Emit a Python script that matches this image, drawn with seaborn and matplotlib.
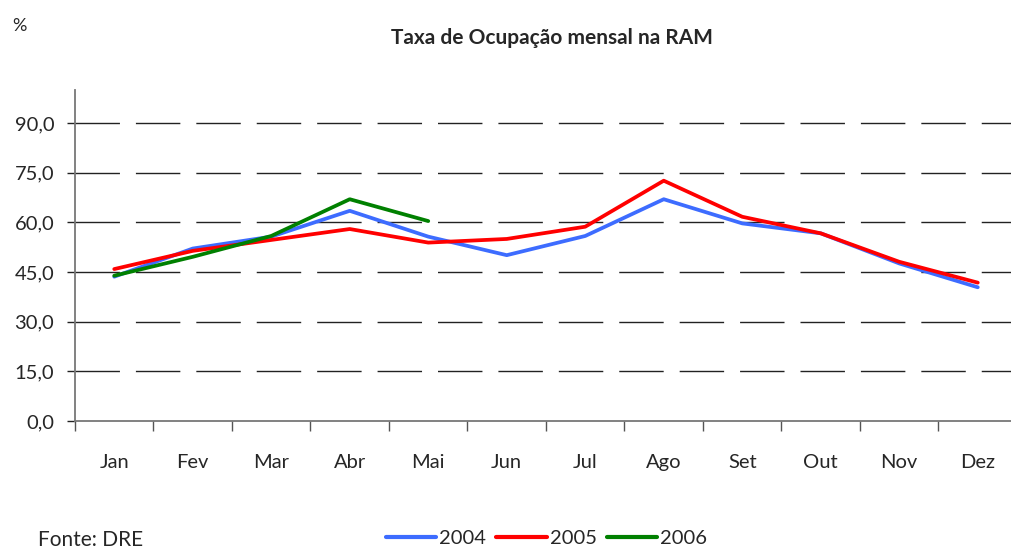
import matplotlib
matplotlib.use("Agg")
import matplotlib.pyplot as plt
import pandas as pd
import seaborn as sns

months = ["Jan", "Fev", "Mar", "Abr", "Mai", "Jun", "Jul", "Ago", "Set", "Out", "Nov", "Dez"]
occ_2004 = [43.6, 52.1, 55.7, 63.5, 55.7, 50.1, 55.9, 67.0, 59.7, 56.7, 47.6, 40.4]
occ_2005 = [45.9, 51.4, 54.7, 58.0, 53.9, 55.0, 58.7, 72.6, 61.7, 56.7, 48.1, 41.8]
occ_2006 = [43.9, 49.6, 55.9, 67.0, 60.4]
years = ["2004", "2005", "2006"]
colors = ["#3d6cff", "#ff0000", "#008000"]
yticks = [0, 15, 30, 45, 60, 75, 90]

rows = []
for year, vals in zip(years, [occ_2004, occ_2005, occ_2006]):
    for i, v in enumerate(vals):
        rows.append({"pos": i, "Mes": months[i], "Ano": year, "Taxa": v})
df = pd.DataFrame(rows)

sns.set_style("white")
plt.rcParams["font.family"] = ["Lato", "DejaVu Sans"]
plt.rcParams["lines.scale_dashes"] = False

fig = plt.figure(figsize=(10.12, 5.51), dpi=100)
ax = fig.add_axes([75 / 1012, 1 - 421 / 551, 942 / 1012, 331 / 551])

for y in yticks[1:]:
    ax.axhline(y, color="#222222", lw=1.0, linestyle=(0, (32, 11.5)), zorder=1)

sns.lineplot(data=df, x="pos", y="Taxa", hue="Ano", palette=colors, lw=2.7,
             sort=False, ax=ax, legend=False, zorder=3)

ax.set_xlim(-0.5, 11.5)
ax.set_ylim(0, 100)
ax.set_yticks(yticks)
ax.set_yticklabels([f"{v:.1f}".replace(".", ",") for v in yticks], fontsize=14.5)
ax.set_xticks([i - 0.5 for i in range(13)])
ax.set_xticklabels([])
ax.set_xticks(range(12), minor=True)
ax.set_xticklabels(months, minor=True, fontsize=14.5)
ax.tick_params(axis="x", which="major", length=7, width=1, color="#555555", direction="out", bottom=True)
ax.tick_params(axis="x", which="minor", length=0, pad=24)
ax.tick_params(axis="y", length=6, width=1, color="#222222", direction="out", left=True, pad=9)
ax.set_xlabel("")
ax.set_ylabel("")

for s in ["top", "right"]:
    ax.spines[s].set_visible(False)
for s in ["left", "bottom"]:
    ax.spines[s].set_color("#777777")
    ax.spines[s].set_linewidth(1.3)

fig.text(0.545, 1 - 38 / 551, "Taxa de Ocupação mensal na RAM", ha="center", va="center",
         fontsize=15, fontweight="bold")
fig.text(12 / 1012, 1 - 26 / 551, "%", ha="left", va="center", fontsize=13)
fig.text(38 / 1012, 1 / 551, "Fonte: DRE", ha="left", va="bottom", fontsize=15)

handles = [plt.Line2D([], [], color=c, lw=3) for c in colors]
fig.legend(handles, years, loc="center", bbox_to_anchor=(0.54, 1 - 538 / 551), ncol=3,
           frameon=False, fontsize=14.5, handlelength=2.5, handletextpad=0.15,
           columnspacing=0.5)

fig.savefig("out.png", dpi=100)
